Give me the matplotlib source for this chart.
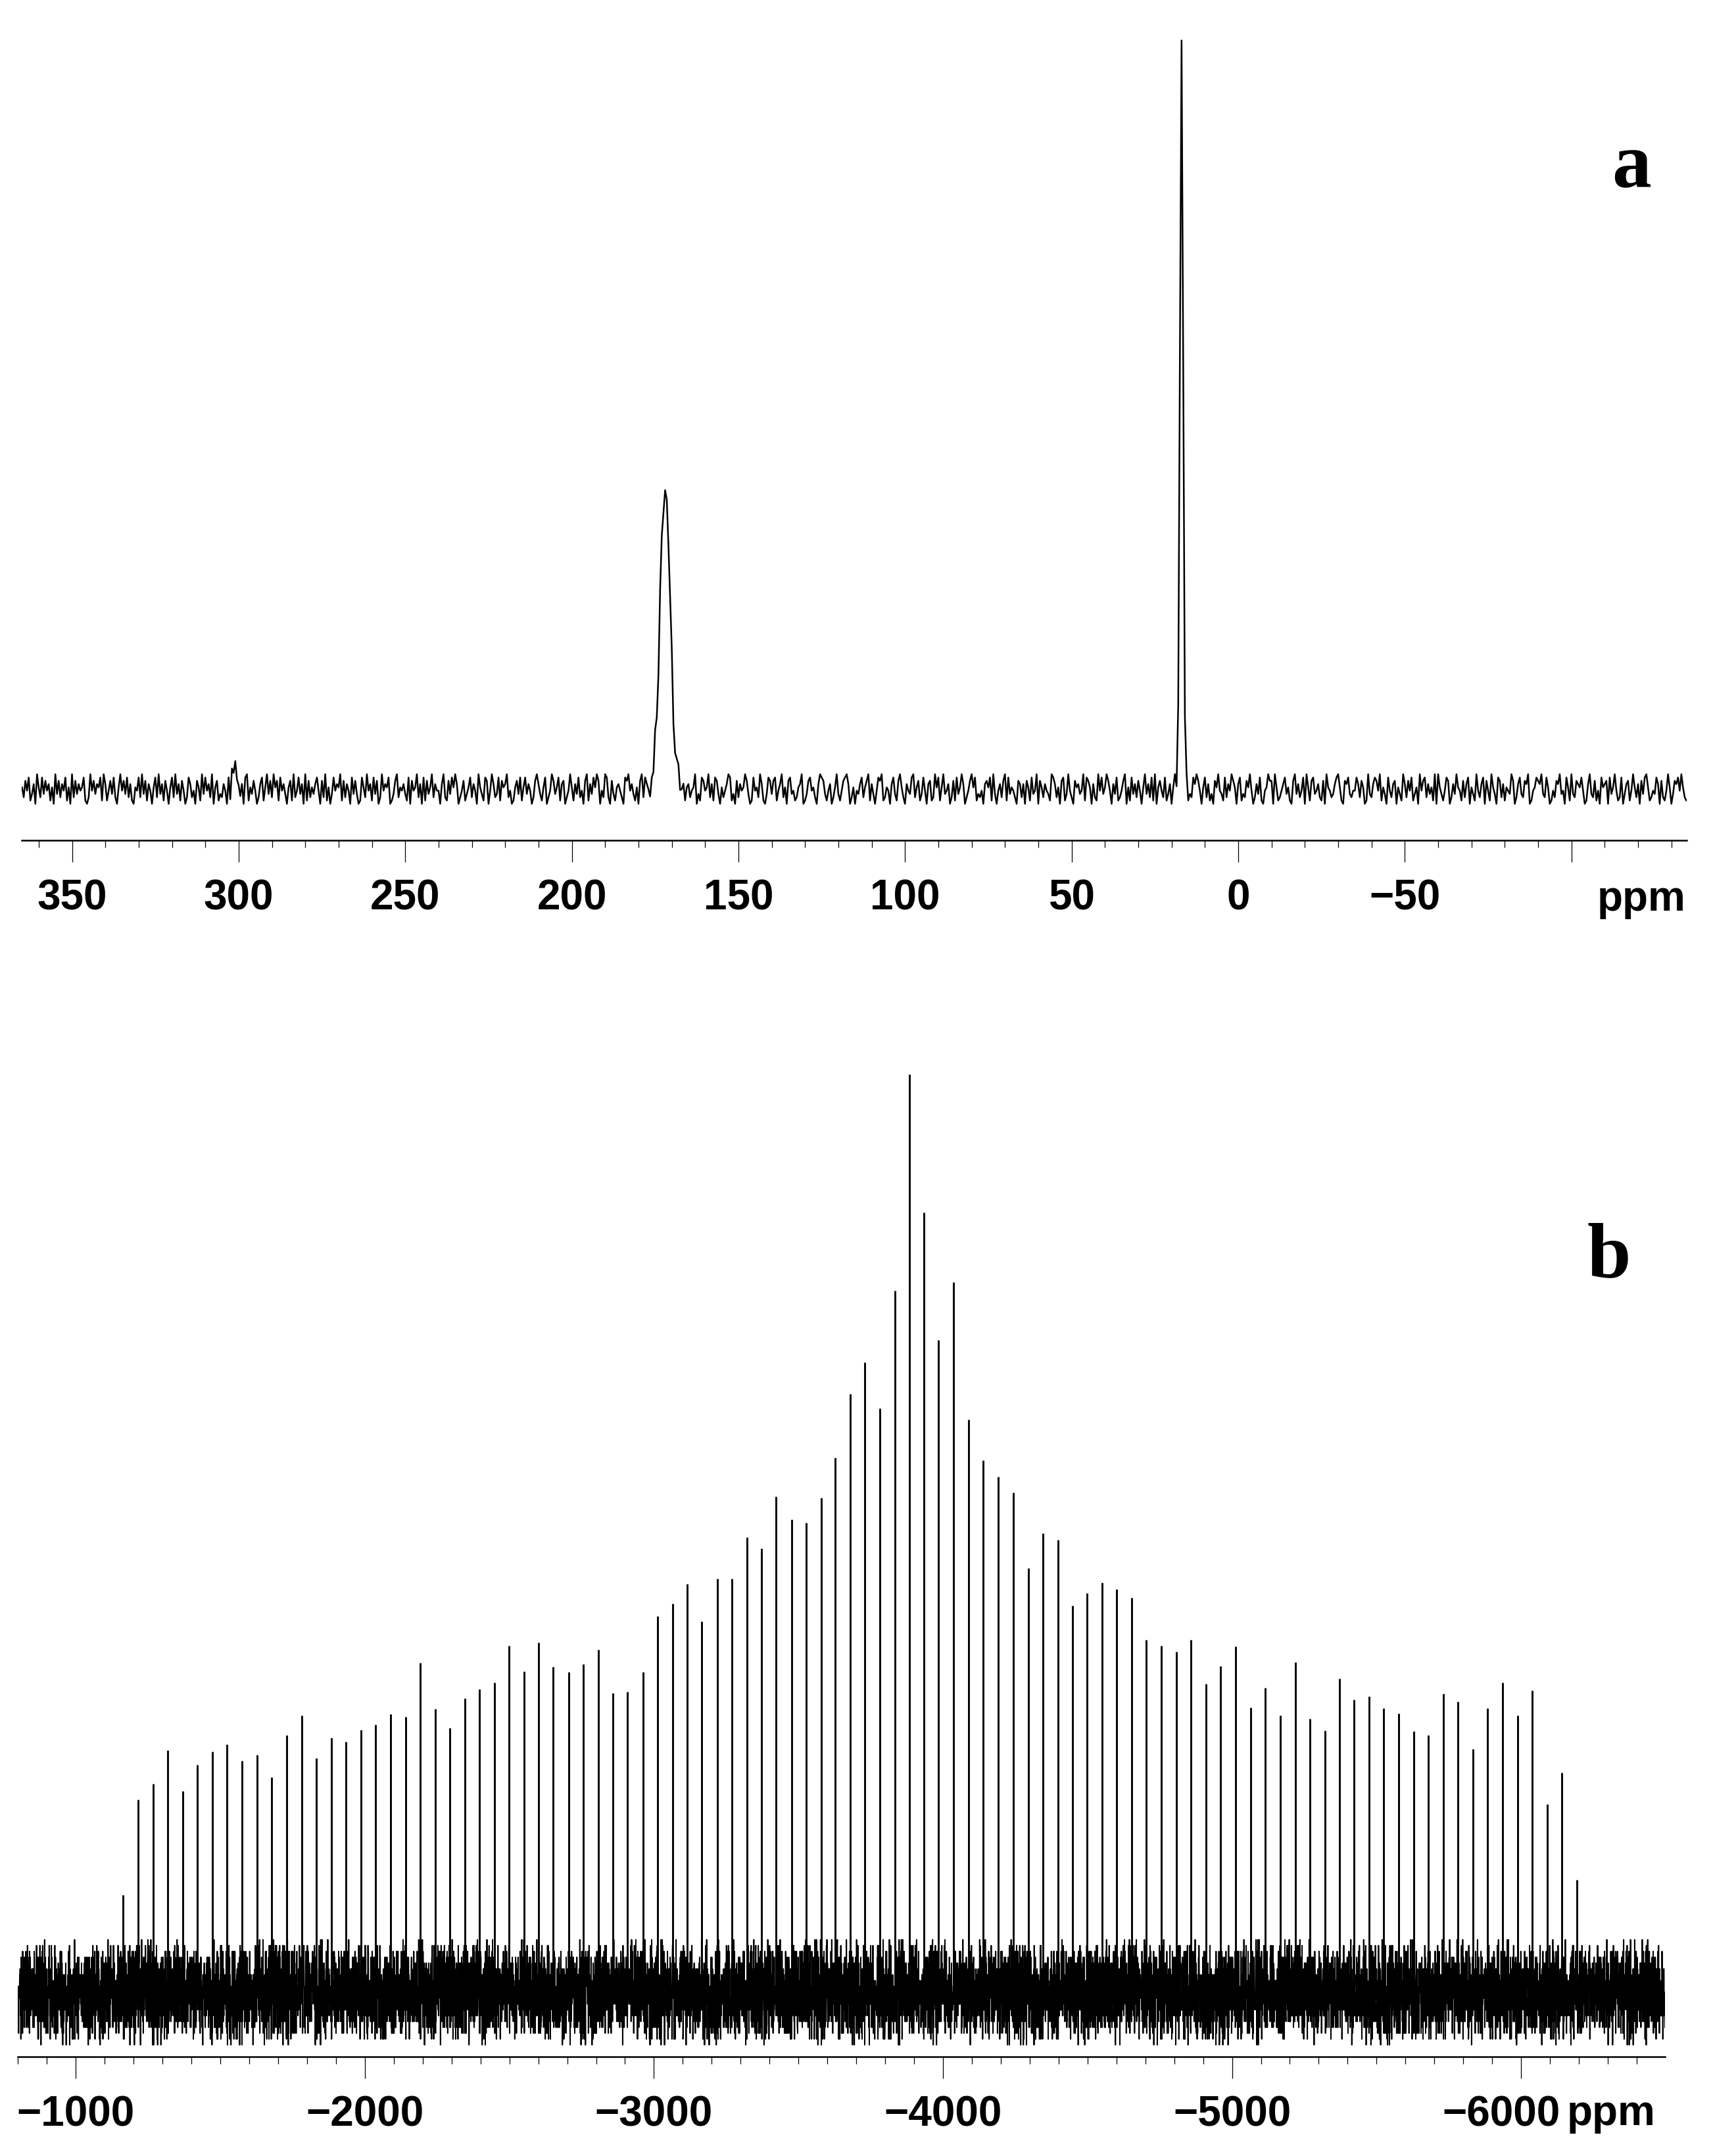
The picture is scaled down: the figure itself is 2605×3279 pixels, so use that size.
import numpy as np
import matplotlib
matplotlib.use('Agg')
import matplotlib.pyplot as plt
from matplotlib.ticker import FixedLocator, FixedFormatter, MultipleLocator
from matplotlib.transforms import ScaledTranslation

plt.rcParams['font.family'] = ['Liberation Sans', 'DejaVu Sans']
plt.rcParams['font.weight'] = 'bold'

W, H = 2605, 3279

# ---- panel a: 13C spectrum ----
ppm_a = np.arange(365.0, -135.0, -0.5)
# baseline noise (one digit per point, 0..9)
noise_rows = [
    "52748136095283746150937264815092736458102947365819",
    "61473820594738261054829371640582936174058293617402",
    "86240751938462905713264081957342608915374026815937",
    "29571846305719248360917253684072915038465917264083",
    "73018529461837029465801379254631807459260817359264",
    "40692173859602471358264095318704962381756924015738",
    "15836402796315802497358167024951638240791638597042",
    "98207315642087946315079286415392087135468027934615",
    "62459031874592618730524698130726459730184529610387",
    "37814692507834125690137845206987314602593147896025",
    "04368257916304879125406831795206438925713840671295",
    "81593460271835960247958132406758193046279183542076",
    "26075183490752643198625078139420756349187506219483",
    "59740638124790518362740593628190574281360594761238",
    "13286974058261307594318264975068132759402638104597",
    "70951246835107936248095178346217095423689510768324",
    "48627501932687491530842670531962748135094782635190",
    "95314870263954172680531942680741953087261543970268",
    "32769014587693285014276934085193276584016932714085",
    "67083594128036714952607389512438607214950376849521",
]
noise_a = np.array([int(c) for c in "".join(noise_rows)], dtype=float)

peak_a_ppm = [301.0, 172.0, 17.0]
peak_a_height = [30.0, 462.0, 1156.0]
peak_a_fwhm = [1.5, 3.6, 1.1]

# ---- panel b: spinning sideband manifold ----
sb_ppm = [
    -1163, -1215, -1268, -1318, -1370, -1420, -1472, -1522, -1575, -1627,
    -1677, -1729, -1782, -1832, -1884, -1934, -1986, -2036, -2088, -2141,
    -2191, -2243, -2293, -2345, -2395, -2448, -2498, -2550, -2600, -2652,
    -2705, -2755, -2807, -2859, -2909, -2962, -3012, -3064, -3116, -3166,
    -3219, -3269, -3321, -3371, -3423, -3476, -3526, -3578, -3628, -3680,
    -3730, -3782, -3835, -3883, -3935, -3985, -4037, -4089, -4139, -4192,
    -4244, -4296, -4346, -4399, -4449, -4499, -4551, -4601, -4653, -4703,
    -4756, -4808, -4858, -4910, -4960, -5013, -5065, -5115, -5167, -5219,
    -5270, -5322, -5372, -5422, -5474, -5524, -5577, -5629, -5679, -5731,
    -5781, -5833, -5883, -5936, -5988, -6038, -6090, -6140, -6193,
]
sb_height = [
    148, 293, 317, 368, 306, 346, 366, 377, 352, 361,
    327, 391, 421, 356, 387, 381, 399, 407, 423, 419,
    501, 431, 402, 447, 461, 471, 527, 488, 532, 495,
    487, 499, 521, 455, 457, 487, 572, 591, 621, 564,
    629, 629, 692, 675, 754, 719, 714, 752, 813, 910,
    958, 888, 1067, 1396, 1186, 992, 1080, 871, 809, 784,
    760, 645, 698, 688, 588, 607, 623, 613, 600, 536,
    527, 518, 536, 469, 496, 526, 433, 463, 421, 502,
    416, 398, 477, 445, 450, 432, 424, 397, 391, 454,
    442, 370, 432, 471, 421, 459, 286, 334, 171,
]

ppm_b = np.linspace(-799.0, -6498.0, 10000)

a_ticks = [350, 300, 250, 200, 150, 100, 50, 0, -50, -100]
a_labels = ['350', '300', '250', '200', '150', '100', '50', '0', '\u221250', '']
b_ticks = [-1000, -2000, -3000, -4000, -5000, -6000]
b_labels = ['\u22121000', '\u22122000', '\u22123000', '\u22124000', '\u22125000', '\u22126000']

# build traces
y_a = (noise_a - 4.5) * 5.0
for p, h, w in zip(peak_a_ppm, peak_a_height, peak_a_fwhm):
    s = w / 2.3548
    y_a = y_a + h * np.exp(-0.5 * ((ppm_a - p) / s) ** 2)

idx = np.arange(len(ppm_b))
u = (noise_a - 4.5) / 4.5
y_b = 80.0 * 0.5 * (u[idx % 1000] + u[(idx * 7 + 3) % 997])

fig = plt.figure(figsize=(W / 100, H / 100), dpi=100)

def style_axis(ax):
    for s in ['left', 'right', 'top']:
        ax.spines[s].set_visible(False)
    ax.spines['bottom'].set_linewidth(1.8)
    ax.set_yticks([])
    ax.tick_params(axis='x', which='major', length=23.5, width=0.9, pad=18.5,
                   labelsize=46, direction='out', color='black')
    ax.tick_params(axis='x', which='minor', length=8.2, width=0.9, direction='out')

ax_a = fig.add_axes([33 / W, 1 - 1278 / H, (2565 - 33) / W, 1278 / H])
ax_a.plot(ppm_a, y_a, color='black', lw=1.8)
ax_a.set_xlim(365.1, -134.6)
ax_a.set_ylim(-78, 1200)
style_axis(ax_a)
ax_a.xaxis.set_major_locator(FixedLocator(a_ticks))
ax_a.xaxis.set_major_formatter(FixedFormatter(a_labels))
ax_a.xaxis.set_minor_locator(MultipleLocator(10))

ax_b = fig.add_axes([27 / W, 1 - 3128 / H, (2532 - 27) / W, (3128 - 1500) / H])
ax_b.plot(ppm_b, y_b, color='black', lw=1.4)
ax_b.vlines(sb_ppm, 0, sb_height, colors='black', lw=2.1)
ax_b.set_xlim(-799, -6498)
ax_b.set_ylim(-98, 1530)
style_axis(ax_b)
ax_b.xaxis.set_major_locator(FixedLocator(b_ticks))
ax_b.xaxis.set_major_formatter(FixedFormatter(b_labels))
ax_b.xaxis.set_minor_locator(MultipleLocator(100))

fig.canvas.draw()
last = ax_b.get_xticklabels()[-1]
last.set_transform(last.get_transform() + ScaledTranslation(-0.30, 0, fig.dpi_scale_trans))

fig.text(2496 / W, 1 - 1385 / H, 'ppm', ha='center', va='baseline', fontsize=46, fontweight='bold')
fig.text(2450 / W, 1 - 3232 / H, 'ppm', ha='center', va='baseline', fontsize=46, fontweight='bold')

fig.text(2481 / W, 1 - 284 / H, 'a', ha='center', va='baseline', fontsize=86,
         fontweight='bold', family=['Liberation Serif', 'DejaVu Serif'])
fig.text(2447 / W, 1 - 1941 / H, 'b', ha='center', va='baseline', fontsize=86,
         fontweight='bold', family=['Liberation Serif', 'DejaVu Serif'])

fig.savefig('out.png', dpi=100, facecolor='white')
